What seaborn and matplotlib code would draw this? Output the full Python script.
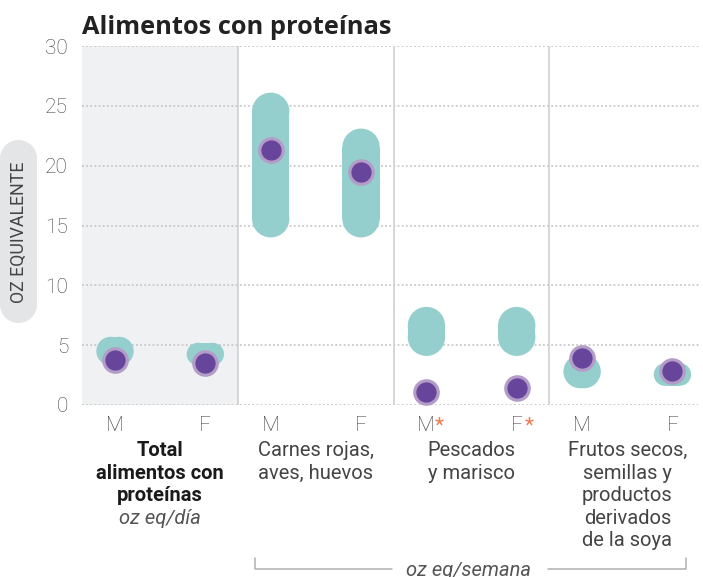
import matplotlib
matplotlib.use("Agg")
import matplotlib.pyplot as plt
from matplotlib.patches import Rectangle, Ellipse
from matplotlib.lines import Line2D
from matplotlib import transforms
import pandas as pd
import seaborn as sns

# values (oz eq)
groups = ["Total\nalimentos con\nproteínas",
          "Carnes rojas,\naves, huevos",
          "Pescados\ny marisco",
          "Frutos secos,\nsemillas y\nproductos\nderivados\nde la soya"]
sexes = ["M", "F"]
rec_low_m = [3.3, 14.0, 4.1, 1.4]
rec_high_m = [5.7, 26.1, 8.2, 4.2]
rec_low_f = [3.3, 14.0, 4.1, 1.6]
rec_high_f = [5.2, 23.1, 8.2, 3.5]
intake_m = [3.8, 21.3, 1.1, 3.9]
intake_f = [3.5, 19.5, 1.4, 2.85]
flagged = [False, False, True, False]
yticks = [0, 5, 10, 15, 20, 25, 30]

TEAL = "#94cfce"
PURPLE = "#66459b"
LAVENDER = "#b39cc7"
GREY_TXT = "#444444"
F_OFF = 0.58

rows = []
for g in range(len(groups)):
    rows.append(dict(pos=g, sex="M", low=rec_low_m[g], high=rec_high_m[g], intake=intake_m[g]))
    rows.append(dict(pos=g + F_OFF, sex="F", low=rec_low_f[g], high=rec_high_f[g], intake=intake_f[g]))
df = pd.DataFrame(rows)


def pill(target, x0, y0, w, h, sx, sy, transform, **kw):
    # stadium shape with true round ends; sx, sy = pixels per unit
    if h * sy >= w * sx:
        ry = (w / 2) * sx / sy
        parts = [Rectangle((x0, y0 + ry), w, h - 2 * ry),
                 Ellipse((x0 + w / 2, y0 + ry), w, 2 * ry),
                 Ellipse((x0 + w / 2, y0 + h - ry), w, 2 * ry)]
    else:
        rx = (h / 2) * sy / sx
        parts = [Rectangle((x0 + rx, y0), w - 2 * rx, h),
                 Ellipse((x0 + rx, y0 + h / 2), 2 * rx, h),
                 Ellipse((x0 + w - rx, y0 + h / 2), 2 * rx, h)]
    for p in parts:
        p.set(transform=transform, lw=0, **kw)
        if hasattr(target, "add_patch"):
            target.add_patch(p)
        else:
            target.add_artist(p)


sns.set_style("white")
plt.rcParams["font.family"] = ["Roboto", "DejaVu Sans"]

fig = plt.figure(figsize=(7.03, 5.77), dpi=100)
W, H = 703, 577
ax_l, ax_b, ax_w, ax_h = 82, 405, 618, 359
ax = fig.add_axes([ax_l / W, 1 - ax_b / H, ax_w / W, ax_h / H])
xlim = (-0.212, 3.757)
ax.set_xlim(*xlim)
ax.set_ylim(0, 30)

# shaded "total" panel and separators
ax.axvspan(xlim[0], 0.79, color="#f0f1f3", zorder=0, lw=0)
for g in range(len(groups) - 1):
    ax.axvline(g + 0.79, color="#d0d0d0", lw=1.2, zorder=1)

ax.set_yticks(yticks)
ax.yaxis.grid(True, color="#c8c8c8", lw=1.3, linestyle=(0, (1, 1.3)), zorder=0.5)
ax.xaxis.grid(False)
for s in ax.spines.values():
    s.set_visible(False)

# recommended ranges as rounded pills
px_x = ax_w / (xlim[1] - xlim[0])
px_y = ax_h / 30
w = 0.24
for _, r in df.iterrows():
    pill(ax, r["pos"] - w / 2, r["low"], w, r["high"] - r["low"], px_x, px_y,
         ax.transData, fc=TEAL, ec="none", zorder=2, clip_on=False)

# average intake dots
sns.scatterplot(data=df, x="pos", y="intake", s=285, color=PURPLE, edgecolor=LAVENDER,
                linewidth=2.3, zorder=3, legend=False, ax=ax, clip_on=False)
ax.set_xlabel("")
ax.set_ylabel("")

ax.set_xticks(df["pos"])
ax.set_xticklabels(df["sex"])
ax.tick_params(axis="x", length=0, pad=8, labelsize=15, labelcolor=GREY_TXT)
ax.tick_params(axis="y", length=0, pad=10, labelsize=15, labelcolor=GREY_TXT)
for lab in ax.get_xticklabels() + ax.get_yticklabels():
    lab.set_fontweight("light")

xt = ax.get_xaxis_transform()
for g, flag in enumerate(flagged):
    if flag:
        for off in (0, F_OFF):
            ax.annotate("*", xy=(g + off, 0), xycoords=xt, xytext=(6, -8),
                        textcoords="offset points", ha="left", va="top",
                        fontsize=15, color="#f07a4a")

# group labels
for g, name in enumerate(groups):
    bold = g == 0
    ax.annotate(name, xy=(g + F_OFF / 2, 0), xycoords=xt, xytext=(0, -36 * 0.72),
                textcoords="offset points", ha="center", va="top", fontsize=14.5,
                linespacing=1.24, color="#1a1a1a" if bold else GREY_TXT,
                fontweight="bold" if bold else "normal")
ax.annotate("oz eq/día", xy=(F_OFF / 2, 0), xycoords=xt, xytext=(0, -114 * 0.72),
            textcoords="offset points", ha="center", va="center", fontsize=14.5,
            style="italic", color="#555555")

# bracket for weekly groups
bt = transforms.blended_transform_factory(ax.transData, fig.transFigure)
y_line = 1 - 569 / H
y_top = 1 - 558 / H
left, right, mid = 1 - 0.1, 3 + F_OFF + 0.09, 2 + F_OFF / 2 - 0.02
for xs, ys in [([left, left, mid - 0.49], [y_top, y_line, y_line]),
               ([mid + 0.51, right, right], [y_line, y_line, y_top])]:
    fig.add_artist(Line2D(xs, ys, transform=bt, color="#b0b0b0", lw=1.1))
wk = fig.text(0, y_line - 1 / H, "oz eq/semana", transform=bt, ha="center", va="center",
              fontsize=14.5, style="italic", color="#555555")
wk.set_x(mid)

# y axis label in a rounded grey box
pill(fig, 0, 1 - 323 / H, 37 / W, 183 / H, W, H, fig.transFigure,
     fc="#e4e5e7", ec="none", zorder=0)
fig.text(19 / W, 1 - 232 / H, "OZ EQUIVALENTE", rotation=90, ha="center", va="center",
         fontsize=12.8, color=GREY_TXT)

fig.text(82 / W, 1 - 34 / H, "Alimentos con proteínas", fontsize=18.3, fontweight="bold",
         family=["Open Sans", "DejaVu Sans"], color="#222222", va="baseline")

fig.savefig("out.png", dpi=100)
